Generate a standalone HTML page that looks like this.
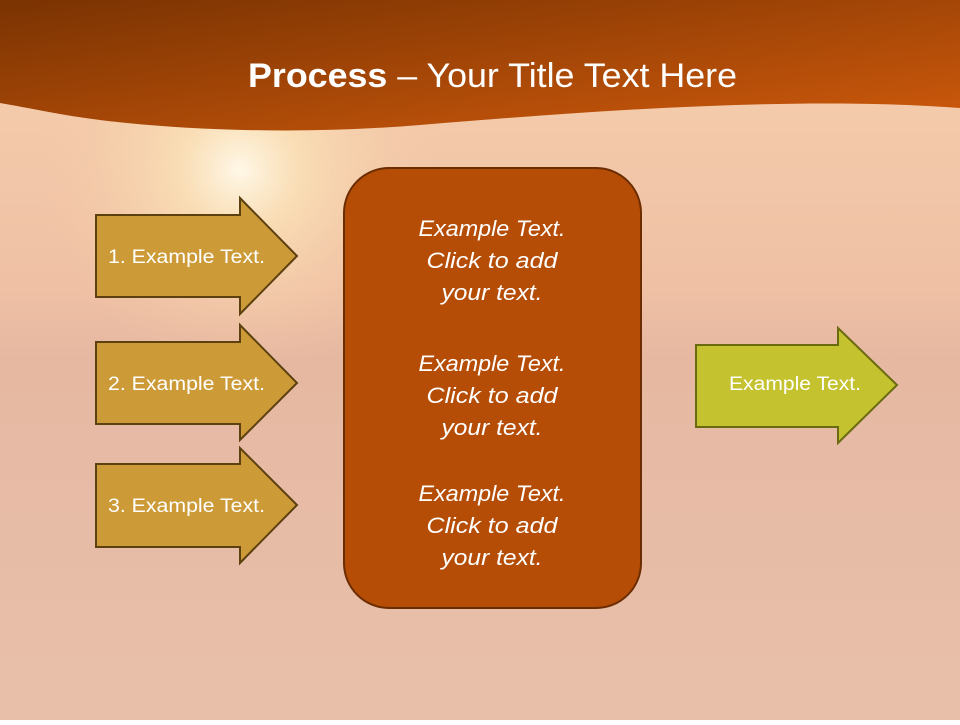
<!DOCTYPE html>
<html><head><meta charset="utf-8"><style>
body{margin:0;width:960px;height:720px;overflow:hidden;font-family:"Liberation Sans",sans-serif}
</style></head><body>
<svg width="960" height="720" viewBox="0 0 960 720" xmlns="http://www.w3.org/2000/svg">
<defs>
<linearGradient id="bg" x1="0" y1="0" x2="0" y2="1">
<stop offset="0" stop-color="#f6d0ae"/><stop offset="0.4" stop-color="#efc0a4"/><stop offset="0.5" stop-color="#e6b8a2"/><stop offset="1" stop-color="#e8c0aa"/>
</linearGradient>
<radialGradient id="sun" cx="240" cy="170" r="200" gradientUnits="userSpaceOnUse">
<stop offset="0" stop-color="#fff8e8" stop-opacity="1"/><stop offset="0.3" stop-color="#fbe3b8" stop-opacity="0.8"/><stop offset="1" stop-color="#f5c9a5" stop-opacity="0"/>
</radialGradient>
<linearGradient id="hdr" x1="0" y1="0" x2="1" y2="1">
<stop offset="0" stop-color="#7a3302"/><stop offset="1" stop-color="#cf5a0c"/>
</linearGradient>
</defs>
<rect width="960" height="720" fill="url(#bg)"/>
<rect width="960" height="720" fill="url(#sun)"/>
<path d="M0 0H960V108C800 96 600 110 420 125C300 135 180 130 100 120C60 115 30 108 0 103Z" fill="url(#hdr)"/>
<text x="248" y="87" textLength="489" lengthAdjust="spacingAndGlyphs" fill="#fff" font-size="34"><tspan font-weight="bold">Process</tspan> – Your Title Text Here</text>
<g fill="#cc9a36" stroke="#5c4010" stroke-width="2">
<path d="M96 215H240V198L297 256L240 314V297H96Z"/>
<path d="M96 342H240V325L297 383L240 440V424H96Z"/>
<path d="M96 464H240V448L297 505L240 563V547H96Z"/>
</g>
<path d="M696 345H838V328L897 385L838 443V427H696Z" fill="#c4c22e" stroke="#6a6a10" stroke-width="2"/>
<rect x="344" y="168" width="297" height="440" rx="45" fill="#b54d06" stroke="#6b2c00" stroke-width="2"/>
<g fill="#fff" font-size="19">
<text x="108" y="263" textLength="157" lengthAdjust="spacingAndGlyphs">1. Example Text.</text>
<text x="108" y="390" textLength="157" lengthAdjust="spacingAndGlyphs">2. Example Text.</text>
<text x="108" y="512" textLength="157" lengthAdjust="spacingAndGlyphs">3. Example Text.</text>
<text x="729" y="390" textLength="132" lengthAdjust="spacingAndGlyphs">Example Text.</text>
</g>
<g fill="#fff" font-size="22" font-style="italic" text-anchor="middle">
<text x="492" y="236" textLength="147" lengthAdjust="spacingAndGlyphs">Example Text.</text><text x="492" y="268" textLength="131" lengthAdjust="spacingAndGlyphs">Click  to add</text><text x="492" y="300" textLength="101" lengthAdjust="spacingAndGlyphs">your text.</text>
<text x="492" y="371" textLength="147" lengthAdjust="spacingAndGlyphs">Example Text.</text><text x="492" y="403" textLength="131" lengthAdjust="spacingAndGlyphs">Click  to add</text><text x="492" y="435" textLength="101" lengthAdjust="spacingAndGlyphs">your text.</text>
<text x="492" y="501" textLength="147" lengthAdjust="spacingAndGlyphs">Example Text.</text><text x="492" y="533" textLength="131" lengthAdjust="spacingAndGlyphs">Click  to add</text><text x="492" y="565" textLength="101" lengthAdjust="spacingAndGlyphs">your text.</text>
</g>
</svg>
</body></html>
